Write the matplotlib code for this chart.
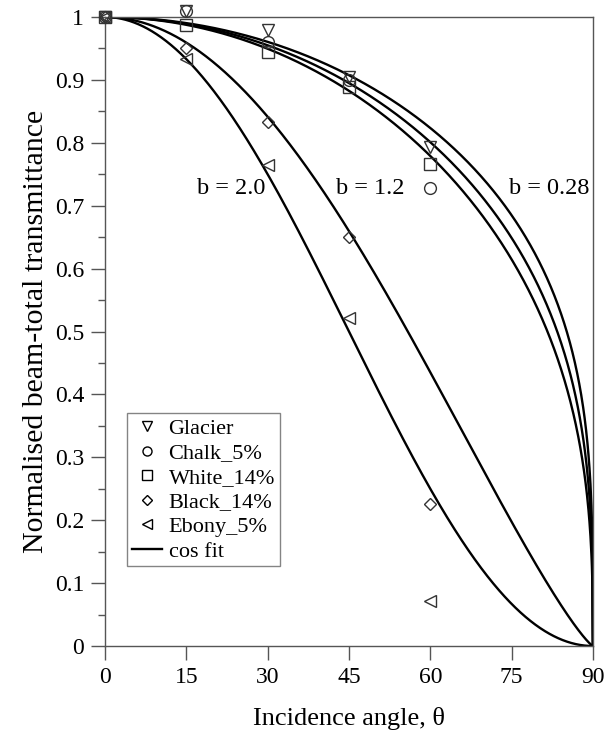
import numpy as np
import matplotlib
matplotlib.use("Agg")
import matplotlib.pyplot as plt
from matplotlib.ticker import MultipleLocator
from matplotlib.lines import Line2D

plt.rcParams['font.family'] = ['Liberation Serif', 'DejaVu Serif']

angles = [0, 15, 30, 45, 60]
glacier = [1.0, 1.01, 0.979, 0.905, 0.794]
chalk = [1.0, 1.01, 0.960, 0.900, 0.728]
white = [1.0, 0.987, 0.944, 0.889, 0.767]
black = [1.0, 0.950, 0.833, 0.650, 0.226]
ebony = [1.0, 0.933, 0.764, 0.522, 0.071]

fit_b = [0.28, 0.32, 0.36, 1.2, 2.0]
labels_b = ["b = 2.0", "b = 1.2", "b = 0.28"]
label_x = [23.2, 49, 82]
label_y = [0.727, 0.727, 0.727]

fig = plt.figure(figsize=(6.05, 7.4), dpi=100)
ax = fig.add_axes([0.1736, 0.127, 0.8064, 0.850])

theta = np.linspace(0, 90, 1000)
for b in fit_b:
    ax.plot(theta, np.cos(np.radians(theta)) ** b, color='black', lw=1.7, zorder=2)

mk = dict(linestyle='none', markerfacecolor='none', markeredgecolor='#333333',
          markersize=8.5, markeredgewidth=1.0, zorder=3, clip_on=False)
ax.plot(angles, glacier, marker='v', **mk)
ax.plot(angles, chalk, marker='o', **mk)
ax.plot(angles, white, marker='s', **mk)
ax.plot(angles, black, marker='D', **{**mk, 'markersize': 6.5})
ax.plot(angles, ebony, marker='<', **mk)

for t, x, y in zip(labels_b, label_x, label_y):
    ax.text(x, y, t, ha='center', va='center', fontsize=17.5)

ax.set_xlim(0, 90)
ax.set_ylim(0, 1)
ax.xaxis.set_major_locator(MultipleLocator(15))
ax.yaxis.set_minor_locator(MultipleLocator(0.05))
ax.set_yticks(np.arange(0, 1.01, 0.1))
ax.set_yticklabels(['0', '0.1', '0.2', '0.3', '0.4', '0.5', '0.6', '0.7', '0.8', '0.9', '1'])
ax.tick_params(axis='both', which='major', direction='out', length=10, width=1,
               color='#555555', labelsize=17, pad=5)
ax.tick_params(axis='y', which='minor', direction='out', length=5, width=1, color='#555555')
for s in ax.spines.values():
    s.set_color('#555555')
    s.set_linewidth(1.0)

ax.set_xlabel('Incidence angle, θ', fontsize=19, labelpad=14)
ax.set_ylabel('Normalised beam-total transmittance', fontsize=21.5, labelpad=4)

lmk = dict(linestyle='none', markerfacecolor='none', markeredgecolor='black',
           markersize=6.5, markeredgewidth=1.0)
handles = [
    Line2D([], [], marker='v', **lmk),
    Line2D([], [], marker='o', **lmk),
    Line2D([], [], marker='s', **lmk),
    Line2D([], [], marker='D', **{**lmk, 'markersize': 5}),
    Line2D([], [], marker='<', **lmk),
    Line2D([], [], color='black', lw=1.7),
]
names = ['Glacier', 'Chalk_5%', 'White_14%', 'Black_14%', 'Ebony_5%', 'cos fit']
leg = ax.legend(handles, names, loc='upper left', bbox_to_anchor=(0.045, 0.37),
                fontsize=16, frameon=True, fancybox=False, handlelength=1.35,
                handletextpad=0.3, borderpad=0.22, labelspacing=0.18, borderaxespad=0)
leg.get_frame().set_edgecolor('#666666')
leg.get_frame().set_linewidth(1.0)

fig.savefig('out.png', dpi=100)
